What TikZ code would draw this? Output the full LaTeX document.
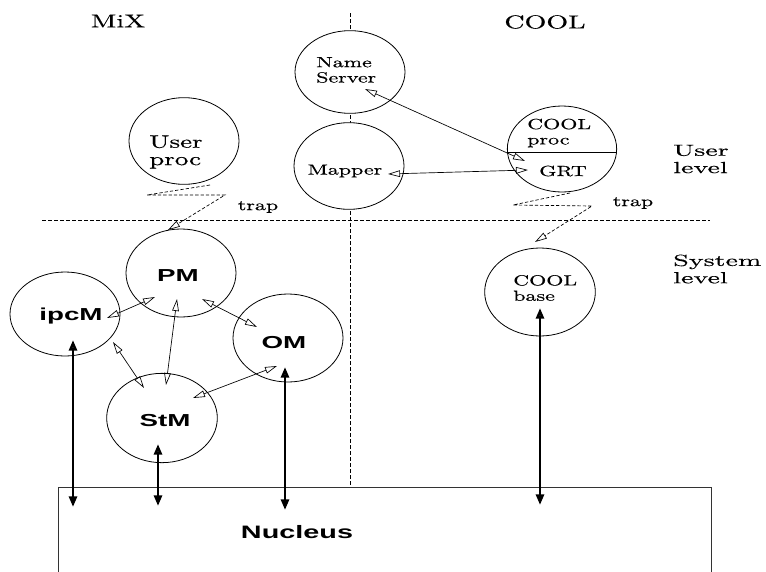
\documentclass[tikz,border=0pt]{standalone}
\usepackage{fontspec}
\setmainfont{lmroman10-regular.otf}[FakeStretch=1.5, FakeBold=0.4]
\newfontfamily\widerm{lmroman10-regular.otf}[FakeStretch=1.75, FakeBold=0.4]
\newfontfamily\helv{Liberation Sans}[FakeStretch=1.6]
\usetikzlibrary{arrows.meta, positioning, shapes.geometric, calc}

\tikzset{
  proc/.style={ellipse, draw, fill=white, line width=0.6pt, inner sep=0pt,
    minimum width=82.5pt, minimum height=65pt},
  ptext/.style={align=left, inner sep=0pt, font=\fontsize{11}{11.5}\selectfont},
  mgr/.style={inner sep=0pt, font=\helv\bfseries\fontsize{13}{15}\selectfont},
  toplbl/.style={inner sep=0pt, font=\fontsize{14}{16}\selectfont},
  lvllbl/.style={align=left, inner sep=0pt, font=\widerm\fontsize{12}{13}\selectfont},
  traplbl/.style={inner sep=0pt, font=\fontsize{11}{13}\selectfont},
  msg/.style={{Triangle[open,length=9pt,width=5pt]}-{Triangle[open,length=9pt,width=5pt]},
    line width=0.5pt},
  kcall/.style={{Triangle[open,length=8pt,width=6pt]}-{Triangle[open,length=8pt,width=6pt]},
    line width=2.2pt},
  trapln/.style={dash pattern=on 2.5pt off 1.5pt, line width=0.5pt,
    -{Triangle[open,length=9pt,width=5pt]}},
  divider/.style={dash pattern=on 3pt off 1.5pt, line width=0.6pt}
}

\begin{document}
\begin{tikzpicture}[x=0.75pt, y=-0.75pt]
  \useasboundingbox (0,0) rectangle (766,571);

  % nucleus box and the two dividers
  \node[draw=black!80, line width=0.6pt, anchor=north west, inner sep=0pt,
    minimum width=490pt, minimum height=90pt] (nuc) at (58,487) {};
  \node[mgr, font=\helv\bfseries\fontsize{13.5}{15}\selectfont] (nuc-t) at (297,532) {Nucleus};
  \coordinate (vtop) at (350,13);
  \draw[divider] (vtop) -- (vtop |- nuc.north);
  \coordinate (hleft) at (42,220);
  \coordinate (hright) at (710,220);
  \draw[divider] (hleft) -- (hright);

  % column and level labels
  \node[toplbl] (mix) at (118,21) {MiX};
  \node[toplbl] (cool) at (545,22) {COOL};
  \node[lvllbl, anchor=west] (ulevel) at (673,159) {User\\level};
  \node[lvllbl, anchor=west] (slevel) at (673,269) {System\\level};

  % user level
  \node[proc] (uproc) at (184,141) {};
  \node[ptext, anchor=west, font=\fontsize{13.5}{13}\selectfont] (uproc-t) at (149,152) {User\\proc};
  \node[proc, minimum height=62pt] (ns) at (350,72) {};
  \node[ptext, anchor=west] (ns-t) at (316,70) {Name\\Server};
  \node[proc] (mapper) at (349,166) {};
  \node[ptext] (mapper-t) at (345,171) {Mapper};
  \node[proc, minimum width=82pt, minimum height=64.5pt] (cproc) at (562,149) {};
  \draw[line width=0.6pt] ([shift={(0,3)}]cproc.west) -- ([shift={(0,3)}]cproc.east);
  \node[ptext, anchor=west] (cproc-t) at (527,133) {COOL\\proc};
  \node[ptext] (grt-t) at (563,171) {GRT};

  % system level
  \node[proc, minimum height=66pt] (pm) at (181,273) {};
  \node[mgr] (pm-t) at (178,276) {PM};
  \node[proc, minimum height=63pt] (ipcm) at (65,314) {};
  \node[mgr] (ipcm-t) at (71,316) {ipcM};
  \node[proc, minimum height=66pt] (om) at (288,338) {};
  \node[mgr] (om-t) at (284,343) {OM};
  \node[proc, minimum width=83pt, minimum height=67pt] (stm) at (162,418) {};
  \node[mgr] (stm-t) at (165,421) {StM};
  \node[proc, minimum width=83pt, minimum height=66pt] (cbase) at (540,292) {};
  \node[ptext, anchor=west] (cbase-t) at (513,288) {COOL\\base};

  % traps
  \draw[trapln] ([shift={(26,44)}]uproc.center) -- ++(-63,10) -- ++(78,0)
    -- ([shift={(-13,-43)}]pm.center);
  \node[traplbl] (trap1) at (258,207) {trap};
  \draw[trapln] ([shift={(8,44)}]cproc.center) -- ++(-57,12) -- ++(79,1)
    -- ([shift={(-5,-50)}]cbase.center);
  \node[traplbl] (trap2) at (633,203) {trap};

  % messages
  \draw[msg] ([shift={(15,17)}]ns.center) -- ([shift={(-37,12)}]cproc.center);
  \draw[msg] ([shift={(39,8)}]mapper.center) -- ([shift={(-34,21)}]cproc.center);
  \draw[msg] ([shift={(-26,24)}]pm.center) -- ([shift={(42,4)}]ipcm.center);
  \draw[msg] ([shift={(-4,26)}]pm.center) -- ([shift={(4,-33)}]stm.center);
  \draw[msg] ([shift={(21,26)}]pm.center) -- ([shift={(-31,-11)}]om.center);
  \draw[msg] ([shift={(48,28)}]ipcm.center) -- ([shift={(-18,-30)}]stm.center);
  \draw[msg] ([shift={(31,-20)}]stm.center) -- ([shift={(-11,28)}]om.center);

  % kernel calls
  \draw[kcall] ([shift={(8,26)}]ipcm.center) -- ([shift={(15,20)}]nuc.north west);
  \draw[kcall] ([shift={(-4,26)}]stm.center) -- ([shift={(100,19)}]nuc.north west);
  \draw[kcall] ([shift={(-3,29)}]om.center) -- ([shift={(227,23)}]nuc.north west);
  \draw[kcall] ([shift={(0,16)}]cbase.center) -- ([shift={(482,18)}]nuc.north west);
\end{tikzpicture}
\end{document}
